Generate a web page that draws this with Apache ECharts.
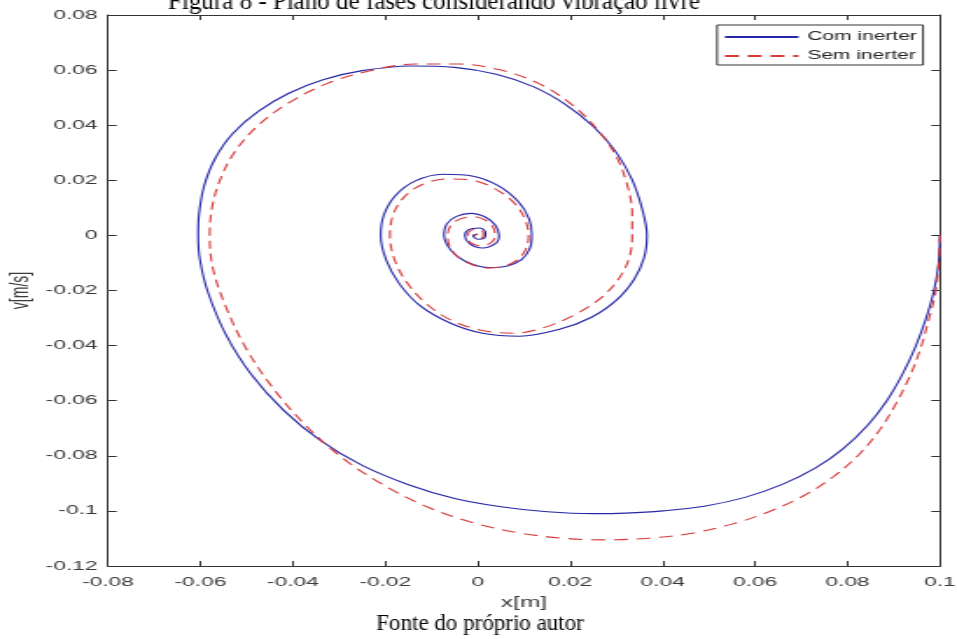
<!DOCTYPE html>
<html>
<head>
<meta charset="utf-8">
<title>Plano de fases</title>
<script src="https://cdn.jsdelivr.net/npm/echarts@6/dist/echarts.min.js"></script>
<style>
  html, body { margin: 0; padding: 0; background: #fff; }
  #wrap { width: 957px; height: 639px; overflow: hidden; position: relative; }
  /* a figura original do matlab esta esticada na horizontal */
  #chart { width: 547px; height: 639px; transform: scaleX(1.7495); transform-origin: 0 0; }
</style>
</head>
<body>
<div id="wrap"><div id="chart"></div></div>
<script>
// eixos
const xTicks = [-0.08, -0.06, -0.04, -0.02, 0, 0.02, 0.04, 0.06, 0.08, 0.1]
const yTicks = [-0.12, -0.1, -0.08, -0.06, -0.04, -0.02, 0, 0.02, 0.04, 0.06, 0.08]

// Com inerter (x[m], v[m/s])
const comInerter = [
  [0.1, 0], [0.0997, -0.01], [0.0987, -0.02], [0.097, -0.03], [0.0948, -0.04],
  [0.092, -0.05], [0.0885, -0.06], [0.0843, -0.069], [0.079, -0.0775], [0.073, -0.0845],
  [0.066, -0.0903], [0.058, -0.095], [0.049, -0.0983], [0.04, -0.1], [0.032, -0.1008],
  [0.025, -0.101], [0.015, -0.1003], [0.005, -0.0985], [-0.005, -0.0955], [-0.015, -0.0905],
  [-0.025, -0.0835], [-0.034, -0.0745], [-0.042, -0.0635], [-0.049, -0.0505], [-0.0545, -0.036],
  [-0.0583, -0.021], [-0.0601, -0.009], [-0.0605, 0],
  [-0.0603, 0.008], [-0.0592, 0.018], [-0.0568, 0.028], [-0.053, 0.037], [-0.0475, 0.045],
  [-0.041, 0.0515], [-0.0335, 0.0565], [-0.025, 0.0598], [-0.0145, 0.0615], [-0.005, 0.061],
  [0.004, 0.0585], [0.012, 0.054], [0.019, 0.0475], [0.025, 0.0395], [0.0298, 0.0305],
  [0.0333, 0.0205], [0.0355, 0.01], [0.0366, 0],
  [0.036, -0.008], [0.0338, -0.016], [0.03, -0.0235], [0.0245, -0.0298], [0.0175, -0.0342],
  [0.009, -0.0366], [0.001, -0.0355], [-0.006, -0.0318], [-0.0125, -0.0255], [-0.017, -0.0175],
  [-0.0198, -0.009], [-0.021, 0],
  [-0.0203, 0.0075], [-0.0178, 0.0145], [-0.0135, 0.0198], [-0.0075, 0.0222], [-0.001, 0.0215],
  [0.0045, 0.018], [0.0088, 0.0122], [0.0111, 0.006], [0.0117, 0],
  [0.0112, -0.005], [0.0094, -0.0089], [0.0062, -0.0112], [0.0025, -0.0117], [-0.0013, -0.0104],
  [-0.0045, -0.0075], [-0.0066, -0.0036], [-0.0073, 0],
  [-0.0067, 0.0042], [-0.0046, 0.0069], [-0.0015, 0.008], [0.0017, 0.0066], [0.0038, 0.0037],
  [0.0046, 0], [0.004, -0.0027], [0.001, -0.0046], [-0.0017, -0.0031], [-0.0028, 0],
  [-0.002, 0.0021], [0.0004, 0.0027], [0.0017, 0.0008], [0.0014, -0.001], [0, -0.0014],
  [-0.001, 0], [0, 0.0005]
]

// Sem inerter
const semInerter = [
  [0.1, 0], [0.0997, -0.011], [0.099, -0.021], [0.0975, -0.031], [0.0958, -0.041],
  [0.0935, -0.051], [0.0905, -0.061], [0.087, -0.0705], [0.0825, -0.0795], [0.077, -0.0875],
  [0.0705, -0.0945], [0.063, -0.1003], [0.055, -0.1048], [0.046, -0.1082], [0.037, -0.1099],
  [0.028, -0.1105], [0.019, -0.11], [0.009, -0.108], [-0.001, -0.1043], [-0.011, -0.0985],
  [-0.0205, -0.0905], [-0.0295, -0.0805], [-0.0375, -0.0685], [-0.0445, -0.055], [-0.0503, -0.0405],
  [-0.0546, -0.0255], [-0.0573, -0.012], [-0.058, 0],
  [-0.0575, 0.01], [-0.0558, 0.02], [-0.0527, 0.03], [-0.0478, 0.0395], [-0.041, 0.048],
  [-0.0328, 0.055], [-0.0235, 0.0597], [-0.0135, 0.0622], [-0.004, 0.0622], [0.005, 0.06],
  [0.013, 0.0553], [0.0198, 0.0482], [0.0255, 0.0392], [0.0298, 0.0292], [0.0323, 0.0185],
  [0.0334, 0.008], [0.0334, 0],
  [0.0328, -0.008], [0.0306, -0.0155], [0.0268, -0.0225], [0.0213, -0.0285], [0.0148, -0.0332],
  [0.008, -0.0355], [0.001, -0.0345], [-0.0055, -0.031], [-0.011, -0.025], [-0.0153, -0.0172],
  [-0.018, -0.0088], [-0.019, 0],
  [-0.0183, 0.0075], [-0.016, 0.0138], [-0.012, 0.0185], [-0.0065, 0.0205], [-0.0005, 0.0198],
  [0.0045, 0.0162], [0.0082, 0.0112], [0.0103, 0.0055], [0.011, 0],
  [0.0104, -0.005], [0.0085, -0.009], [0.0055, -0.0113], [0.002, -0.0118], [-0.0017, -0.0103],
  [-0.0047, -0.0072], [-0.0062, -0.0035], [-0.0065, 0],
  [-0.0058, 0.0037], [-0.0038, 0.006], [-0.001, 0.0068], [0.0017, 0.0055], [0.0033, 0.003],
  [0.0037, 0], [0.003, -0.0025], [0.0008, -0.0039], [-0.0015, -0.0027], [-0.0022, 0],
  [-0.0015, 0.0018], [0.0003, 0.0022], [0.0012, 0.0007], [0.001, -0.0008], [0, -0.0012],
  [-0.0007, 0], [0, 0.0003]
]

const sx = 1.7495 // esticamento horizontal da figura
const axisColor = '#333'
const textColor = '#3a3a3a'
const fmt = v => parseFloat(v.toFixed(2)).toString()

const chart = echarts.init(document.getElementById('chart'))

// caixa do matlab: eixos em cima e a direita sem rotulos
function boxAxis(pos, ticks, show) {
  return {
    type: 'value',
    position: pos,
    min: ticks[0],
    max: ticks[ticks.length - 1],
    interval: 0.02,
    axisLine: { show: true, onZero: false, lineStyle: { color: axisColor, width: 1 } },
    axisTick: { show: true, inside: true, length: 5, lineStyle: { color: axisColor } },
    axisLabel: {
      show: show,
      color: textColor,
      fontFamily: 'Liberation Sans',
      fontSize: 13,
      margin: pos === 'left' ? 6 : 10,
      formatter: fmt,
      showMaxLabel: true,
      showMinLabel: true
    },
    splitLine: { show: false }
  }
}

const xBottom = boxAxis('bottom', xTicks, true)
xBottom.name = 'x[m]'
xBottom.nameLocation = 'middle'
xBottom.nameGap = 30
xBottom.nameMoveOverlap = false
xBottom.nameTextStyle = { color: textColor, fontFamily: 'Liberation Sans', fontSize: 14 }

const yLeft = boxAxis('left', yTicks, true)
yLeft.name = 'v[m/s]'
yLeft.nameLocation = 'middle'
yLeft.nameGap = 43
yLeft.nameMoveOverlap = false
yLeft.nameTextStyle = { color: textColor, fontFamily: 'Liberation Sans', fontSize: 14 }

chart.setOption({
  animation: false,
  backgroundColor: '#fff',
  grid: { left: 108 / sx, right: 17 / sx, top: 15, bottom: 73, containLabel: false, outerBoundsMode: 'none' },
  xAxis: [xBottom, boxAxis('top', xTicks, false)],
  yAxis: [yLeft, boxAxis('right', yTicks, false)],
  legend: {
    right: 34 / sx,
    top: 25,
    orient: 'vertical',
    itemWidth: 42,
    itemHeight: 14,
    itemGap: 7,
    padding: [6, 3.5, 3, 3.5],
    borderColor: axisColor,
    borderWidth: 1,
    backgroundColor: '#fff',
    itemStyle: { opacity: 0 },
    textStyle: { color: '#222', fontFamily: 'Liberation Sans', fontSize: 12 },
    data: ['Com inerter', 'Sem inerter']
  },
  graphic: [
    {
      type: 'text',
      x: 168 / sx,
      y: 15,
      scaleX: 1 / sx,
      style: {
        text: 'Figura 8 - Plano de fases considerando vibração livre',
        font: '25px "Liberation Serif"', fill: '#000', align: 'left', verticalAlign: 'bottom'
      }
    },
    {
      type: 'text',
      x: 480 / sx,
      y: 624,
      scaleX: 1 / sx,
      style: {
        text: 'Fonte do próprio autor',
        font: '23px "Liberation Serif"', fill: '#000', align: 'center', verticalAlign: 'middle'
      }
    }
  ],
  series: [
    {
      name: 'Com inerter',
      type: 'line',
      data: comInerter,
      smooth: 0.35,
      symbol: 'none',
      lineStyle: { color: '#2626a6', width: 1.1 },
      itemStyle: { color: '#2626a6' }
    },
    {
      name: 'Sem inerter',
      type: 'line',
      data: semInerter,
      smooth: 0.35,
      symbol: 'none',
      lineStyle: { color: '#d83a3a', width: 1.1, type: [8, 5] },
      itemStyle: { color: '#d83a3a' }
    }
  ]
})
</script>
</body>
</html>
